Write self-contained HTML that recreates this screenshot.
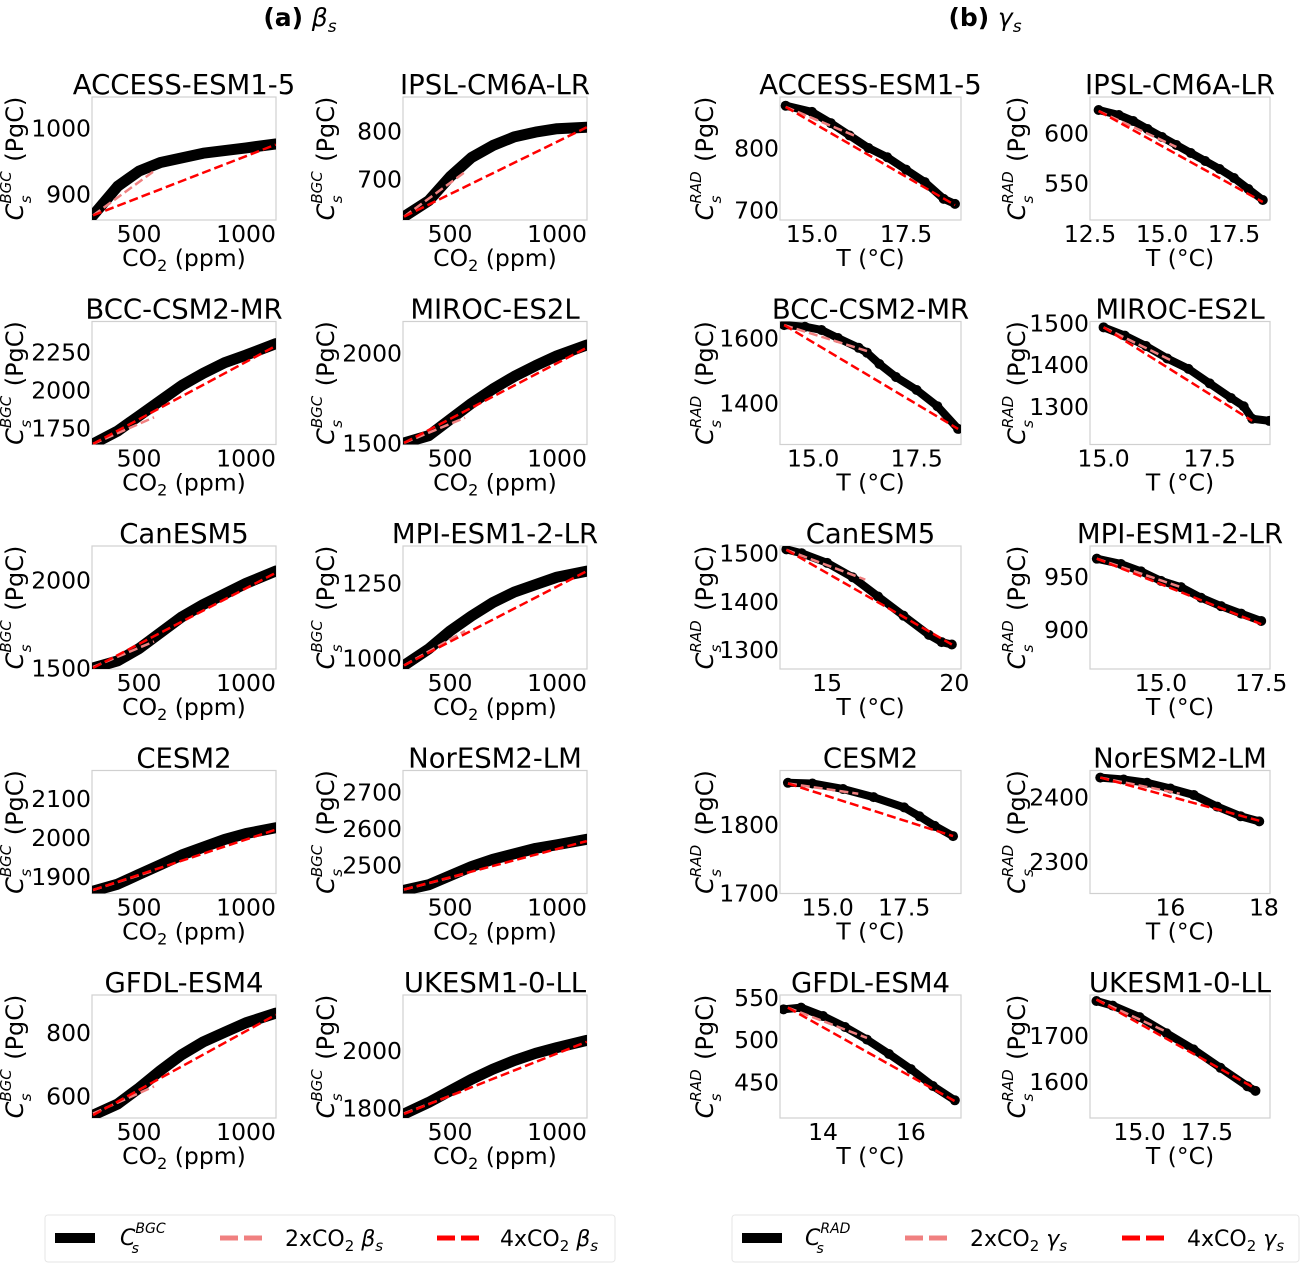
<!DOCTYPE html>
<html><head><meta charset="utf-8">
<style>
html,body{margin:0;padding:0;background:#fff;}
svg{display:block;font-family:"DejaVu Sans","Liberation Sans",sans-serif;}
</style></head>
<body>
<svg id="fig" width="1301" height="1264" viewBox="0 0 1301 1264" xmlns="http://www.w3.org/2000/svg">
<text x="300" y="26" font-size="25" font-weight="bold" text-anchor="middle">(a) <tspan font-style="italic" font-weight="normal">β</tspan><tspan font-style="italic" font-weight="normal" font-size="17" dy="6">s</tspan></text>
<text x="985" y="26" font-size="25" font-weight="bold" text-anchor="middle">(b) <tspan font-style="italic" font-weight="normal">γ</tspan><tspan font-style="italic" font-weight="normal" font-size="17" dy="6">s</tspan></text>
<g id="panels"></g>
<g>
<rect x="45" y="1215" width="570" height="47" rx="3" fill="#fff" stroke="#e6e6e6"/>
<line x1="55" y1="1238" x2="95" y2="1238" stroke="#000" stroke-width="10"/>
<text x="120" y="1245" font-size="22" font-style="italic">C<tspan font-size="14" dy="-12">BGC</tspan><tspan font-size="14" dx="-34" dy="20">s</tspan></text>
<line x1="220" y1="1238" x2="268" y2="1238" stroke="#f08080" stroke-width="5" stroke-dasharray="18,6"/>
<text x="285" y="1246" font-size="22">2xCO<tspan font-size="15" dy="5">2</tspan><tspan dy="-5" font-style="italic"> β</tspan><tspan font-size="15" dy="5" font-style="italic">s</tspan></text>
<line x1="437" y1="1238" x2="485" y2="1238" stroke="#ff0000" stroke-width="5" stroke-dasharray="18,6"/>
<text x="500" y="1246" font-size="22">4xCO<tspan font-size="15" dy="5">2</tspan><tspan dy="-5" font-style="italic"> β</tspan><tspan font-size="15" dy="5" font-style="italic">s</tspan></text>
</g>
<g>
<rect x="732" y="1215" width="567" height="47" rx="3" fill="#fff" stroke="#e6e6e6"/>
<line x1="742" y1="1238" x2="782" y2="1238" stroke="#000" stroke-width="10"/>
<text x="805" y="1245" font-size="22" font-style="italic">C<tspan font-size="14" dy="-12">RAD</tspan><tspan font-size="14" dx="-34" dy="20">s</tspan></text>
<line x1="905" y1="1238" x2="953" y2="1238" stroke="#f08080" stroke-width="5" stroke-dasharray="18,6"/>
<text x="970" y="1246" font-size="22">2xCO<tspan font-size="15" dy="5">2</tspan><tspan dy="-5" font-style="italic"> γ</tspan><tspan font-size="15" dy="5" font-style="italic">s</tspan></text>
<line x1="1122" y1="1238" x2="1170" y2="1238" stroke="#ff0000" stroke-width="5" stroke-dasharray="18,6"/>
<text x="1187" y="1246" font-size="22">4xCO<tspan font-size="15" dy="5">2</tspan><tspan dy="-5" font-style="italic"> γ</tspan><tspan font-size="15" dy="5" font-style="italic">s</tspan></text>
</g>
</svg>
<script>
// ---- data ----
const modelNames = ["ACCESS-ESM1-5","IPSL-CM6A-LR","BCC-CSM2-MR","MIROC-ES2L","CanESM5","MPI-ESM1-2-LR","CESM2","NorESM2-LM","GFDL-ESM4","UKESM1-0-LL"];
const co2X = [285,400,500,600,700,800,900,1000,1139];
const bgcAccess = [868,912,935,948,955,962,966,970,976];
const bgcIpsl = [622,655,705,745,770,788,798,805,808];
const bgcBcc = [1645,1730,1830,1930,2030,2110,2180,2230,2305];
const bgcMiroc = [1500,1540,1630,1720,1800,1870,1930,1985,2045];
const bgcCan = [1500,1540,1610,1700,1790,1860,1920,1980,2050];
const bgcMpi = [975,1030,1090,1140,1185,1220,1245,1270,1290];
const bgcCesm = [1862,1880,1905,1930,1955,1975,1995,2010,2025];
const bgcNor = [2430,2445,2470,2495,2515,2530,2545,2555,2570];
const bgcGfdl = [540,575,625,680,730,770,800,830,860];
const bgcUk = [1780,1820,1860,1900,1935,1965,1990,2010,2035];
const bgcYRange = [[861,1047],[615,871],[1641,2451],[1491,2176],[1494,2192],[963,1374],[1856,2172],[2421,2759],[531,917],[1766,2192]];
const bgcYTicks = [[900,1000],[700,800],[1750,2000,2250],[1500,2000],[1500,2000],[1000,1250],[1900,2000,2100],[2500,2600,2700],[600,800],[1800,2000]];
const bgc2x = [[868,935],[622,715],[1645,1820],[1500,1640],[1505,1650],[975,1090],[1865,1915],[2432,2475],[545,630],[1782,1862]];
const bgc4x = [[868,975],[622,808],[1645,2290],[1500,2030],[1500,2040],[975,1290],[1865,2020],[2432,2565],[540,855],[1780,2030]];
const xTicksBgc = [500,1000];
const co2Range = [280,1140];

const radT = [
 [14.3,15,15.5,16,16.5,17,17.5,18,18.5,18.8],
 [12.8,13.5,14,14.5,15,15.5,16,16.5,17,17.5,18,18.5],
 [14.3,14.8,15.2,15.6,16.1,16.3,16.6,17,17.5,18,18.5],
 [15,15.5,16,16.5,17,17.5,18,18.3,18.5,18.9],
 [13.4,14,15,16,17,18,19,19.5,19.9],
 [13.4,14,14.5,15,15.5,16,16.5,17,17.5],
 [13.7,14.5,15.5,16.5,17.5,18,18.5,19.1],
 [14.5,15,15.5,16,16.5,17,17.5,17.9],
 [13.1,13.5,14,14.5,15,15.5,16,16.5,17],
 [13.4,14,15,16,17,18,19,19.3]];
const radC = [
 [868,858,840,820,800,785,765,745,718,710],
 [623,618,612,604,596,588,580,572,564,555,544,533],
 [1640,1635,1625,1600,1570,1555,1520,1480,1440,1390,1320],
 [1490,1470,1445,1415,1390,1355,1320,1300,1270,1265],
 [1508,1500,1480,1450,1410,1370,1330,1315,1310],
 [967,962,955,946,940,930,922,915,908],
 [1861,1860,1852,1840,1825,1812,1798,1783],
 [2430,2427,2422,2413,2403,2385,2370,2362],
 [536,538,528,515,500,483,465,445,428],
 [1775,1765,1740,1705,1670,1630,1590,1580]];
const radXRange = [[14.15,18.96],[12.5,18.75],[14.2,18.57],[14.68,18.92],[13.15,20.26],[13.23,17.72],[13.44,19.36],[14.28,18.13],[13.02,17.14],[13.16,19.84]];
const radYRange = [[684,882],[513,636],[1272,1651],[1208,1504],[1259,1515],[862.5,979],[1699,1879],[2250,2441],[407,553],[1521,1788]];
const radXTicks = [[15,17.5],[12.5,15,17.5],[15,17.5],[15,17.5],[15,20],[15,17.5],[15,17.5],[16,18],[14,16],[15,17.5]];
const radXLabels = [["15.0","17.5"],["12.5","15.0","17.5"],["15.0","17.5"],["15.0","17.5"],["15","20"],["15.0","17.5"],["15.0","17.5"],["16","18"],["14","16"],["15.0","17.5"]];
const radYTicks = [[700,800],[550,600],[1400,1600],[1300,1400,1500],[1300,1400,1500],[900,950],[1700,1800],[2300,2400],[450,500,550],[1600,1700]];
const rad2x = [[[14.3,866],[16.2,818]],[[12.8,622],[15.5,586]],[[14.3,1640],[16.3,1560]],[[15,1490],[16.6,1410]],[[13.4,1507],[16.5,1445]],[[13.4,967],[15.5,940]],[[13.7,1860],[16,1845]],[[14.5,2430],[16.2,2405]],[[13.2,538],[15,502]],[[13.4,1778],[16,1708]]];
const rad4x = [[[14.3,866],[18.8,708]],[[12.8,622],[18.5,531]],[[14.3,1640],[18.5,1320]],[[15,1490],[18.5,1265]],[[13.4,1507],[19.9,1310]],[[13.4,967],[17.5,905]],[[13.7,1860],[19.1,1783]],[[14.5,2430],[17.9,2363]],[[13.2,538],[17,427]],[[13.4,1778],[19.3,1585]]];
const bgcSeries = [bgcAccess,bgcIpsl,bgcBcc,bgcMiroc,bgcCan,bgcMpi,bgcCesm,bgcNor,bgcGfdl,bgcUk];

// ---- drawing ----
const NS = "http://www.w3.org/2000/svg";
const root = document.getElementById('panels');
const colX = [[92,276],[403,587],[780,961],[1090,1270]];
function mk(tag, attrs, parent){ const e=document.createElementNS(NS,tag); for(const k in attrs) e.setAttribute(k,attrs[k]); parent.appendChild(e); return e; }
function slug(s){return s.toLowerCase().replace(/[^a-z0-9]+/g,'-');}

function drawPanel(i, side){
  const row = Math.floor(i/2), col = (i%2) + (side==='rad'?2:0);
  const L = colX[col][0], R = colX[col][1];
  const T = 97 + 224.5*row, B = 220 + 224.5*row;
  const xr = side==='bgc' ? co2Range : radXRange[i];
  const yr = side==='bgc' ? bgcYRange[i] : radYRange[i];
  const sx = v => L + (v - xr[0])/(xr[1]-xr[0])*(R-L);
  const sy = v => B - (v - yr[0])/(yr[1]-yr[0])*(B-T);
  const g = mk('g',{},root);
  
  
  const clipId = 'clip-'+side+i;
  const cp = mk('clipPath',{id:clipId},g); mk('rect',{x:L,y:T,width:R-L,height:B-T},cp);
  const frame = mk('rect',{x:L,y:T,width:R-L,height:B-T,fill:'#fff',stroke:'#d0d0d0','stroke-width':1.2},g);
  
  
  const title = mk('text',{x:(L+R)/2,y:T-3,'font-size':27.5,'text-anchor':'middle'},g);
  title.textContent = modelNames[i];
  
  
  const xt = side==='bgc' ? xTicksBgc : radXTicks[i];
  xt.forEach((v,k)=>{
    const t = mk('text',{x:sx(v),y:B+22,'font-size':23.5,'text-anchor':'middle'},g);
    t.textContent = side==='bgc' ? String(v) : radXLabels[i][k];
    
    
  });
  const yt = side==='bgc' ? bgcYTicks[i] : radYTicks[i];
  yt.forEach(v=>{
    const t = mk('text',{x:L-1,y:sy(v)+8.5,'font-size':23.5,'text-anchor':'end'},g);
    t.textContent = String(v);
    
    
  });
  const xl = mk('text',{x:(L+R)/2,y:B+46,'font-size':23.5,'text-anchor':'middle'},g);
  xl.innerHTML = side==='bgc' ? 'CO<tspan font-size="16" dy="5">2</tspan><tspan dy="-5"> (ppm)</tspan>' : 'T (°C)';
  
  
  const lx = [17,328,707,1019][col], ly=(T+B)/2;
  const yl = mk('text',{x:0,y:0,'font-size':24,'text-anchor':'middle',transform:`translate(${lx+6},${ly}) rotate(-90)`},g);
  yl.innerHTML = '<tspan font-style="italic">C</tspan><tspan font-size="15" font-style="italic" dy="-12">'+(side==='bgc'?'BGC':'RAD')+'</tspan><tspan font-size="15" font-style="italic" dx="-32" dy="20">s</tspan><tspan dx="26" dy="-8"> (PgC)</tspan>';
  
  
  const pg = mk('g',{'clip-path':`url(#${clipId})`},g);
  if(side==='bgc'){
    const ys = bgcSeries[i];
    const pts = co2X.map((x,k)=>sx(x)+','+sy(ys[k])).join(' ');
    const pl = mk('polyline',{points:pts,fill:'none',stroke:'#000','stroke-width':11,'stroke-linejoin':'round','stroke-linecap':'round'},pg);
    
    
    const l2 = mk('line',{x1:sx(co2X[0]),y1:sy(bgc2x[i][0]),x2:sx(570),y2:sy(bgc2x[i][1]),stroke:'#f08080','stroke-width':2.5,'stroke-dasharray':'9,4'},pg);
    
    
    const l4 = mk('line',{x1:sx(co2X[0]),y1:sy(bgc4x[i][0]),x2:sx(co2X[co2X.length-1]),y2:sy(bgc4x[i][1]),stroke:'#ff0000','stroke-width':2.5,'stroke-dasharray':'9,4'},pg);
    
    
  } else {
    const xs = radT[i], ys = radC[i];
    const pts = xs.map((x,k)=>sx(x)+','+sy(ys[k])).join(' ');
    const pl = mk('polyline',{points:pts,fill:'none',stroke:'#000','stroke-width':8,'stroke-linejoin':'round','stroke-linecap':'round'},pg);
    
    
    xs.forEach((x,k)=>{
      const c = mk('circle',{cx:sx(x),cy:sy(ys[k]),r:5,fill:'#000'},pg);
      
      
    });
    const a=rad2x[i], b=rad4x[i];
    const l2 = mk('line',{x1:sx(a[0][0]),y1:sy(a[0][1]),x2:sx(a[1][0]),y2:sy(a[1][1]),stroke:'#f08080','stroke-width':2.5,'stroke-dasharray':'9,4'},pg);
    
    
    const l4 = mk('line',{x1:sx(b[0][0]),y1:sy(b[0][1]),x2:sx(b[1][0]),y2:sy(b[1][1]),stroke:'#ff0000','stroke-width':2.5,'stroke-dasharray':'9,4'},pg);
    
    
  }
}
for(let i=0;i<10;i++){ drawPanel(i,'bgc'); drawPanel(i,'rad'); }
</script>
</body></html>
